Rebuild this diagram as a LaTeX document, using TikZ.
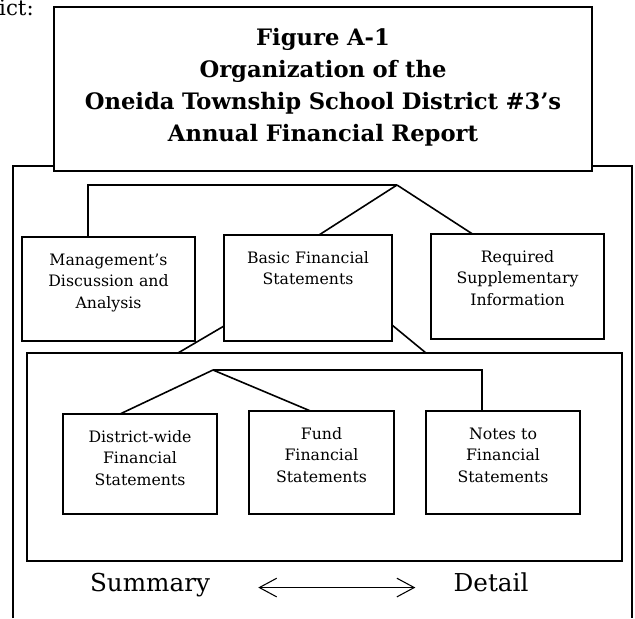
\documentclass[tikz,border=0pt]{standalone}
\usepackage{fontspec}
\setmainfont{DejaVu Serif}
\usetikzlibrary{arrows.meta,calc}

\tikzset{
  box/.style 2 args={draw, line width=1.5pt, inner sep=0pt, outer sep=0pt,
    anchor=north west, align=center, font=\fontsize{11.8}{16.3}\selectfont,
    text width=#1, text height=21pt, text depth=#2},
  link/.style={line width=1.2pt},
  endlabel/.style={font=\fontsize{18.5}{22}\selectfont, inner sep=0pt, anchor=base}
}

\begin{document}
\begin{tikzpicture}[x=0.75pt, y=-0.75pt]
  \useasboundingbox (0,0) rectangle (635,618);
  % outer frame, it runs off the bottom of the page
  \draw[line width=1.2pt] (13,618) |- (632,166) -- (632,618);
  \node[anchor=base east, inner sep=0pt, font=\fontsize{16}{18}\selectfont] (lead) at (34,15) {ict:};
  \node[box={403.5pt}{94.5pt}, fill=white, text height=28.5pt,
        font=\bfseries\fontsize{17}{24}\selectfont] (title) at (54,7)
    {Figure A-1\\Organization of the\\Oneida Township School District \#3’s\\Annual Financial Report};

  % first level
  \node[box={129.75pt}{57pt}] (mda) at (22,237) {Management’s\\Discussion and\\Analysis};
  \node[box={126pt}{58.5pt}] (bfs) at (224,235) {Basic Financial\\Statements};
  \node[box={129.75pt}{57.75pt}] (rsi) at (431,234) {Required\\Supplementary\\Information};

  % basic statements and their parts
  \node[draw, line width=1.5pt, inner sep=0pt, outer sep=0pt, anchor=north west,
        minimum width=446.25pt, minimum height=156pt] (inner) at (27,353) {};
  \node[box={115.5pt}{54pt}] (dfs) at (63,414) {District-wide\\Financial\\Statements};
  \node[box={108.75pt}{56.25pt}] (ffs) at (249,411) {Fund\\Financial\\Statements};
  \node[box={115.5pt}{56.25pt}] (notes) at (426,411) {Notes to\\Financial\\Statements};

  % tree lines
  \coordinate (top) at (397,185);
  \coordinate (mdaknee) at (88,185);
  \draw[link] (mdaknee |- mda.north) -- (mdaknee) -- (top);
  \draw[link] (top) -- ($(bfs.north)+(11,0)$);
  \draw[link] (top) -- ($(rsi.north)+(-45,0)$);
  \draw[link] ($(bfs.south west)+(0,-15)$) -- ($(inner.north west)+(151,0)$);
  \draw[link] ($(bfs.south east)+(0,-16)$) -- ($(inner.north west)+(399,0)$);

  \coordinate (sub) at (213,370);
  \coordinate (subknee) at (482,370);
  \draw[link] (sub) -- ($(dfs.north)+(-20,0)$);
  \draw[link] (sub) -- ($(ffs.north)+(-11,0)$);
  \draw[link] (sub) -- (subknee) -- (subknee |- notes.north);

  % summary to detail scale
  \node[endlabel] (summary) at (150,591) {Summary};
  \node[endlabel] (detail) at (491,591) {Detail};
  \draw[{Straight Barb[length=13pt,width=14pt]}-{Straight Barb[length=13pt,width=14pt]},
        line width=0.8pt, shorten <=36pt, shorten >=28.5pt] (summary.mid east) -- (detail.mid west);
\end{tikzpicture}
\end{document}
